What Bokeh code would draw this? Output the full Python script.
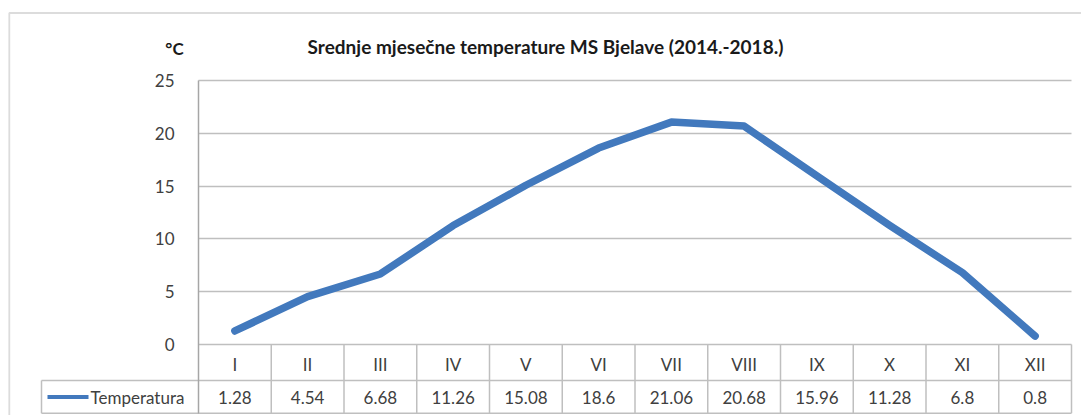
import numpy as np
from bokeh.plotting import figure
from bokeh.models import Range1d, FixedTicker, Grid, LinearAxis, Label, BoxAnnotation
from bokeh.core.properties import value
from bokeh.embed import file_html
from bokeh.resources import INLINE

# ---- data ----
categories = ["I", "II", "III", "IV", "V", "VI", "VII", "VIII", "IX", "X", "XI", "XII"]
temperatura = [1.28, 4.54, 6.68, 11.26, 15.08, 18.6, 21.06, 20.68, 15.96, 11.28, 6.8, 0.8]
y_ticks = [0, 5, 10, 15, 20, 25]
series_name = "Temperatura"
title_text = "Srednje mjesečne temperature MS Bjelave (2014.-2018.)"
unit_label = "°C"

# ---- layout constants ----
FONT = "Lato"
BLUE = "#4279bd"
GRID = "#bfbfbf"
TXT = "#404040"
W, H = 1081, 415
N = len(categories)
COL_W = 873 / N                 # pixels per category
PX = 10.56                      # pixels per degree
PLOT_LEFT_PX = 198
PLOT_TOP_PX = 80
Y_TOP = 25

X0 = 0.5 - PLOT_LEFT_PX / COL_W
X1 = X0 + W / COL_W
YR_TOP = Y_TOP + PLOT_TOP_PX / PX
YR_BOT = YR_TOP - H / PX


def px_x(px):
    return X0 + px / COL_W


def px_y(py):
    return YR_TOP - py / PX


ROW1 = px_y(380)          # between category row and value row
ROW2 = px_y(412.7)        # table bottom
VAL_Y = px_y(396.5)
KEY_LEFT = px_x(41)       # left edge of the legend cell

xs = np.arange(1, N + 1)

p = figure(width=W, height=H, min_border=0, title=None,
           x_range=Range1d(X0, X1), y_range=Range1d(YR_BOT, YR_TOP),
           x_axis_type=None, y_axis_type=None,
           output_backend="svg", toolbar_location=None)
p.outline_line_color = None
p.background_fill_color = "white"
p.border_fill_color = "white"

# outer chart border
p.add_layout(BoxAnnotation(left=px_x(8.8), right=X1 + 5, top=px_y(12.5), bottom=YR_BOT - 5,
                           fill_color=None, line_color="#8c8c8c", line_width=1.8))

# title and unit
p.add_layout(Label(x=px_x(545), y=px_y(45.5), text=title_text, text_align="center",
                   text_baseline="middle", text_font=FONT, text_font_size="19px",
                   text_font_style="bold", text_color="#1a1a1a"))
p.add_layout(Label(x=px_x(174), y=px_y(48), text=unit_label, text_align="center",
                   text_baseline="middle", text_font=FONT, text_font_size="17px",
                   text_font_style="bold", text_color="#1a1a1a"))

# horizontal gridlines across the plot area only
if "cross_bounds" in Grid.properties():
    p.add_layout(Grid(dimension=1, ticker=FixedTicker(ticks=y_ticks), cross_bounds=(0.5, N + 0.5),
                      grid_line_color=GRID, grid_line_width=1.5))
else:
    p.segment(x0=[0.5] * len(y_ticks), y0=y_ticks, x1=[N + 0.5] * len(y_ticks), y1=y_ticks,
              line_color=GRID, line_width=1.5)

# y axis, placed at the left edge of the plot area
yaxis = LinearAxis(fixed_location=0.5, bounds=(ROW2, Y_TOP), ticker=FixedTicker(ticks=y_ticks),
                   axis_line_color="#a6a6a6", axis_line_width=1.5,
                   major_tick_line_color=None, minor_tick_line_color=None,
                   major_label_standoff=18,
                   major_label_text_font=FONT, major_label_text_font_size="17px",
                   major_label_text_color=TXT)
p.add_layout(yaxis, "left")

# category axis (first row of the data table)
xaxis = LinearAxis(fixed_location=0, ticker=FixedTicker(ticks=[float(v) for v in xs]),
                   major_label_overrides={int(i): c for i, c in zip(xs, categories)},
                   axis_line_color=None, major_tick_line_color=None, minor_tick_line_color=None,
                   major_label_standoff=3,
                   major_label_text_font=FONT, major_label_text_font_size="17px",
                   major_label_text_color=TXT)
p.add_layout(xaxis, "below")

# data table lines
sep_x = np.arange(1.5, N + 1, 1.0)
p.segment(x0=sep_x, y0=[0] * len(sep_x), x1=sep_x, y1=[ROW2] * len(sep_x),
          line_color=GRID, line_width=1.5)
p.segment(x0=[0.5, KEY_LEFT, KEY_LEFT, KEY_LEFT],
          y0=[ROW1, ROW2, ROW1, ROW1],
          x1=[N + 0.5, N + 0.5, 0.5, KEY_LEFT],
          y1=[ROW1, ROW2, ROW1, ROW2],
          line_color=GRID, line_width=1.5)

# legend key of the data table
p.segment(x0=[px_x(47)], y0=[VAL_Y], x1=[px_x(88)], y1=[VAL_Y], line_color=BLUE, line_width=4)
p.add_layout(Label(x=px_x(90), y=VAL_Y, text=series_name, text_align="left",
                   text_baseline="middle", text_font=FONT, text_font_size="17px",
                   text_color=TXT))

# data series
p.line(xs, temperatura, line_width=7.5, line_color=BLUE, line_cap="round", line_join="round")

# values row of the data table
p.text(x=xs, y=[VAL_Y] * N, text=[f"{v:g}" for v in temperatura], text_align="center",
       text_baseline="middle", text_font=value(FONT), text_font_size="17px", text_color=TXT)

open("out.html", "w").write(file_html(p, INLINE))
